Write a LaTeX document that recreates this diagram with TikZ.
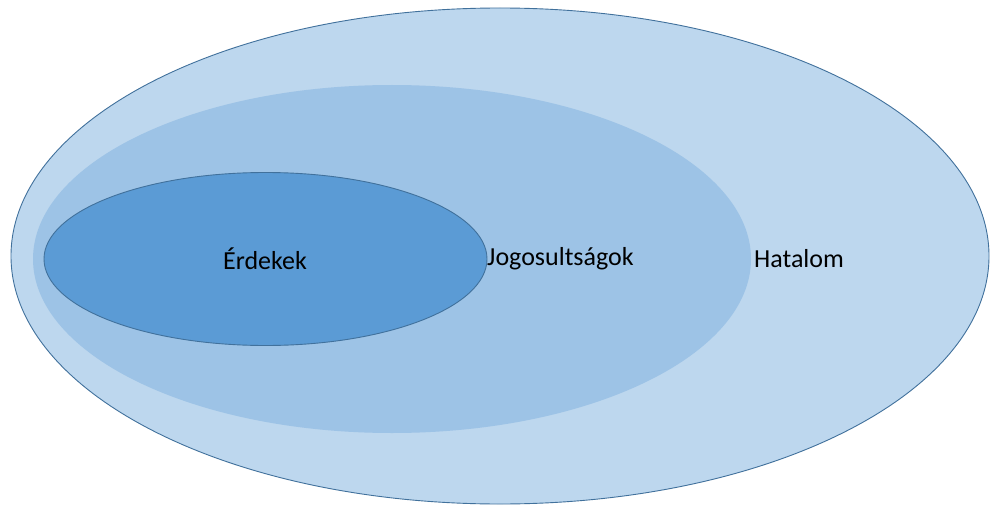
\documentclass[tikz,border=0pt]{standalone}
\usepackage{fontspec}
\setmainfont{Carlito}
\usetikzlibrary{shapes.geometric}
\definecolor{outerfill}{HTML}{BDD7EE}
\definecolor{midfill}{HTML}{9DC3E6}
\definecolor{innerfill}{HTML}{5B9BD5}
\definecolor{edge}{HTML}{41719C}
\tikzset{
  lbl/.style={font=\fontsize{26}{30}\selectfont, text=black, inner sep=0pt},
}
\begin{document}
\begin{tikzpicture}[x=1pt,y=-1pt]
\useasboundingbox (0,0) rectangle (990,508);
\fill[white] (0,0) rectangle (990,508);
\draw[fill=outerfill, draw=edge, line width=0.9pt] (500,256) ellipse [x radius=489, y radius=248];
\fill[midfill] (392,259) ellipse [x radius=359, y radius=174];
\draw[fill=innerfill, draw=edge, line width=0.9pt] (265.5,259) ellipse [x radius=221.5, y radius=86.5];
\node[lbl] (erdekek) at (265,259) {Érdekek};
\node[lbl, anchor=west] (jog) at (487,259) {Jogosultságok};
\node[lbl, anchor=west] (hat) at (754,259) {Hatalom};
\end{tikzpicture}
\end{document}
